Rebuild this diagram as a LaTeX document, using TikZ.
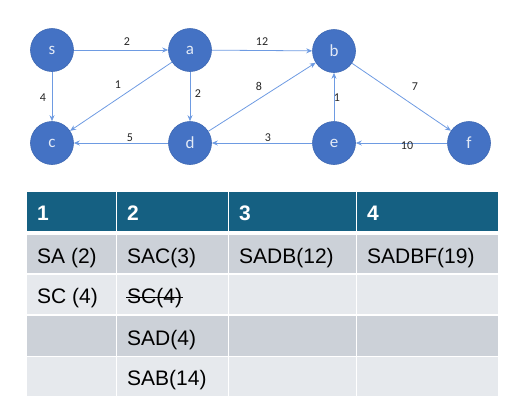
\documentclass[tikz,border=0pt]{standalone}
\usepackage{fontspec}
\setmainfont{Liberation Sans}
\newfontfamily\calibri{Carlito}
\usetikzlibrary{arrows.meta}
\definecolor{nodeblue}{HTML}{4472C4}
\definecolor{nodeedge}{HTML}{3E68B3}
\definecolor{edgeblue}{HTML}{6E9BE2}
\definecolor{hdr}{HTML}{156082}
\definecolor{rowa}{HTML}{CCD1D8}
\definecolor{rowb}{HTML}{E6E9ED}
\begin{document}
\begin{tikzpicture}[x=1pt,y=-1pt,
  vert/.style={circle,fill=nodeblue,draw=nodeedge,line width=0.6pt,minimum size=43pt,inner sep=0pt,
    text=white!85!nodeblue,font=\calibri\fontsize{17}{17}\selectfont},
  edge/.style={draw=edgeblue,line width=0.8pt,-{Stealth[length=6pt,width=5pt]}},
  wlab/.style={font=\calibri\fontsize{12}{12}\selectfont,text=black!85,inner sep=1pt},
  hcell/.style={fill=hdr},
  ta/.style={fill=rowa},
  tb/.style={fill=rowb},
  htext/.style={anchor=base west,inner sep=0pt,text=white,font=\bfseries\fontsize{21}{21}\selectfont},
  ctext/.style={anchor=base west,inner sep=0pt,text=black,font=\fontsize{21}{21}\selectfont},
  strike/.style={draw=black,line width=1pt}
]
\useasboundingbox (0,0) rectangle (520,413);
% graph nodes
\node[vert] (s) at (52,50) {s};
\node[vert] (a) at (190,50) {a};
\node[vert] (b) at (334,51) {b};
\node[vert] (c) at (52,143) {c};
\node[vert] (d) at (190,143) {d};
\node[vert] (e) at (334,143) {e};
\node[vert] (f) at (469,143) {f};
% edges
\draw[edge] (s) -- (a);
\draw[edge] (a) -- (b);
\draw[edge] (s) -- (c);
\draw[edge] (a) -- (c);
\draw[edge] (a) -- (d);
\draw[edge] (d) -- (b);
\draw[edge] (d) -- (c);
\draw[edge] (e) -- (d);
\draw[edge] (e) -- (b);
\draw[edge] (b) -- (f);
\draw[edge] (f) -- (e);
% edge labels
\node[wlab] (l1) at (127,42) {2};
\node[wlab] (l2) at (262,42) {12};
\node[wlab] (l3) at (118,85) {1};
\node[wlab] (l4) at (198,94) {2};
\node[wlab] (l5) at (259,86) {8};
\node[wlab] (l6) at (43,98) {4};
\node[wlab] (l7) at (130,138) {5};
\node[wlab] (l8) at (268,138) {3};
\node[wlab] (l9) at (337,98) {1};
\node[wlab] (l10) at (415,87) {7};
\node[wlab] (l11) at (407,146) {10};
% table cells
\fill[hcell] (27,192) rectangle (115.5,231);
\fill[hcell] (117,192) rectangle (227.5,231);
\fill[hcell] (229,192) rectangle (355.5,231);
\fill[hcell] (357,192) rectangle (498,231);
\foreach \xa/\xb in {27/115.5,117/227.5,229/355.5,357/498}{
  \fill[ta] (\xa,234.5) rectangle (\xb,273);
  \fill[tb] (\xa,274.5) rectangle (\xb,314);
  \fill[ta] (\xa,315.5) rectangle (\xb,355.5);
  \fill[tb] (\xa,357) rectangle (\xb,396);
}
% header text
\node[htext] (h1) at (37,220.5) {1};
\node[htext] (h2) at (127,220.5) {2};
\node[htext] (h3) at (239,220.5) {3};
\node[htext] (h4) at (367,220.5) {4};
% body text
\node[ctext] (t11) at (37,263) {SA (2)};
\node[ctext] (t12) at (127,263) {SAC(3)};
\node[ctext] (t13) at (239,263) {SADB(12)};
\node[ctext] (t14) at (367,263) {SADBF(19)};
\node[ctext] (t21) at (37,303.5) {SC (4)};
\node[ctext] (t22) at (127,303.5) {SC(4)};
\draw[strike] ([yshift=6.5pt,xshift=-1pt]t22.base west) -- ([yshift=6.5pt,xshift=1pt]t22.base east);
\node[ctext] (t32) at (127,345) {SAD(4)};
\node[ctext] (t42) at (127,385.5) {SAB(14)};
\end{tikzpicture}
\end{document}
